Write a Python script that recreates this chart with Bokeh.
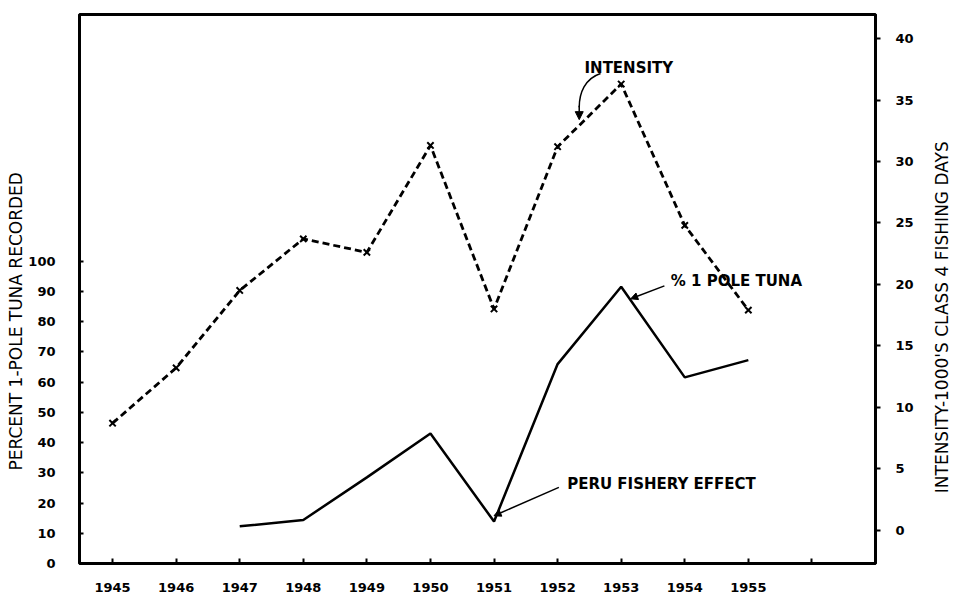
import math
from bokeh.plotting import figure
from bokeh.models import Range1d, LinearAxis, FixedTicker, Label, Arrow, NormalHead, Title
from bokeh.embed import file_html
from bokeh.resources import INLINE

# ---- data ----
years = [1945, 1946, 1947, 1948, 1949, 1950, 1951, 1952, 1953, 1954, 1955]
intensity = [8.7, 13.2, 19.5, 23.7, 22.6, 31.3, 18.0, 31.2, 36.3, 24.8, 17.9]
pct_years = [1947, 1948, 1949, 1950, 1951, 1952, 1953, 1954, 1955]
pct_one_pole = [12.3, 14.4, 28.5, 43.0, 13.9, 66.0, 91.6, 61.6, 67.3]
x_ticks = years + [1956]
x_tick_labels = {1956: ""}
left_ticks = [0, 10, 20, 30, 40, 50, 60, 70, 80, 90, 100]
right_ticks = [0, 5, 10, 15, 20, 25, 30, 35, 40]
left_title = "PERCENT 1-POLE TUNA RECORDED"
right_title = "INTENSITY-1000'S CLASS 4 FISHING DAYS"

FONT = "DejaVu Sans"

p = figure(width=965, height=597, output_backend="svg", toolbar_location=None,
           x_range=Range1d(1944.48, 1957.0), y_range=Range1d(0, 181.7),
           min_border_left=79, min_border_top=14, min_border_right=87,
           min_border_bottom=34)
p.extra_y_ranges = {"right": Range1d(-2.72, 41.96)}
p.background_fill_color = "white"
p.border_fill_color = "white"
p.outline_line_color = "black"
p.outline_line_width = 3
p.xgrid.visible = False
p.ygrid.visible = False

# bottom axis
xa = p.xaxis[0]
xa.ticker = FixedTicker(ticks=x_ticks)
xa.major_label_overrides = x_tick_labels
xa.major_tick_in = 5
xa.major_tick_out = 0
xa.minor_tick_line_color = None
xa.axis_line_width = 2.5
xa.major_tick_line_width = 2
xa.major_label_standoff = 19
xa.major_label_text_font = FONT
xa.major_label_text_font_style = "bold"
xa.major_label_text_font_size = "13px"
xa.major_label_text_color = "black"

# left axis
ya = p.yaxis[0]
ya.ticker = FixedTicker(ticks=left_ticks)
ya.major_tick_in = 4
ya.major_tick_out = 0
ya.minor_tick_line_color = None
ya.axis_line_width = 2
ya.major_tick_line_width = 2
ya.major_label_standoff = 24
ya.major_label_text_font = FONT
ya.major_label_text_font_style = "bold"
ya.major_label_text_font_size = "13px"
ya.major_label_text_color = "black"

# right axis
ra = LinearAxis(y_range_name="right", ticker=FixedTicker(ticks=right_ticks))
ra.major_tick_in = 0
ra.major_tick_out = 5
ra.minor_tick_line_color = None
ra.axis_line_width = 3
ra.major_tick_line_width = 2
ra.major_label_standoff = 15
ra.major_label_text_font = FONT
ra.major_label_text_font_style = "bold"
ra.major_label_text_font_size = "13px"
ra.major_label_text_color = "black"
p.add_layout(ra, "right")

# right title: drawn as a single rotated label that starts low on the axis
rt = LinearAxis(y_range_name="right", ticker=FixedTicker(ticks=[3]))
rt.major_label_overrides = {3: right_title}
rt.major_label_orientation = math.pi / 2
rt.axis_line_color = None
rt.major_tick_line_color = None
rt.minor_tick_line_color = None
rt.major_tick_in = 0
rt.major_tick_out = 0
rt.major_label_standoff = 26
rt.major_label_text_line_height = 0.8
rt.major_label_text_font = FONT
rt.major_label_text_font_style = "normal"
rt.major_label_text_font_size = "17px"
rt.major_label_text_color = "black"
p.add_layout(rt, "right")

# left title (vertical, off-centre like the reference)
p.add_layout(Title(text=left_title, align="left", offset=93,
                   text_font=FONT, text_font_style="normal", text_font_size="17px",
                   text_color="black", standoff=0), "left")

# series
p.line(years, intensity, y_range_name="right", line_color="black",
       line_width=2.8, line_dash="7 4")
p.scatter(years, intensity, y_range_name="right", marker="x", size=9,
          line_color="black", line_width=2)
p.line(pct_years, pct_one_pole, line_color="black", line_width=2.5)

# annotations
def note(x, y, t, align):
    p.add_layout(Label(x=x, y=y, text=t, text_align=align, text_baseline="middle",
                       text_font=FONT, text_font_style="bold",
                       text_font_size="15px", text_color="black"))

note(1953.12, 164.1, "INTENSITY", "center")
note(1953.78, 93.6, "% 1 POLE TUNA", "left")
note(1952.15, 26.4, "PERU FISHERY EFFECT", "left")

p.bezier(x0=[1952.675], y0=[162.2], x1=[1952.34], y1=[151.0],
         cx0=[1952.43], cy0=[160.5], cx1=[1952.34], cy1=[155.8],
         line_color="black", line_width=1.5)
p.add_layout(Arrow(end=NormalHead(size=8, fill_color="black", line_color="black"),
                   x_start=1952.34, y_start=151.5, x_end=1952.34, y_end=146.9,
                   line_width=1.5, line_color="black"))
p.add_layout(Arrow(end=NormalHead(size=7, fill_color="black", line_color="black"),
                   x_start=1953.68, y_start=91.9, x_end=1953.15, y_end=87.6,
                   line_width=1.5, line_color="black"))
p.add_layout(Arrow(end=NormalHead(size=7, fill_color="black", line_color="black"),
                   x_start=1952.02, y_start=25.2, x_end=1951.0, y_end=15.8,
                   line_width=1.5, line_color="black"))

open("out.html", "w").write(file_html(p, INLINE))
